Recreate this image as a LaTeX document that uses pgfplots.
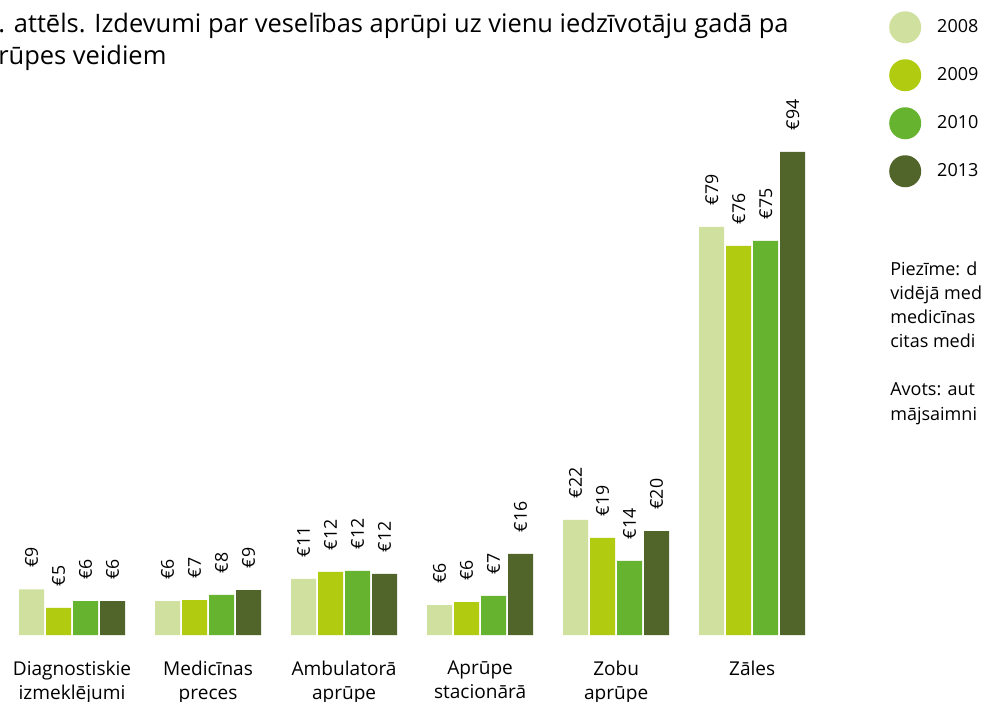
\documentclass[border=0pt]{standalone}
\usepackage{pgfplots}
\pgfplotsset{compat=1.18}
\usepackage{pgfplotstable}
\usepackage{fontspec}
\setmainfont{Open Sans}
\definecolor{cA}{HTML}{D0E19F}
\definecolor{cB}{HTML}{B0CB10}
\definecolor{cC}{HTML}{66B32F}
\definecolor{cD}{HTML}{51652B}
\pgfplotstableread{
x y l
0 8.9 9
1 6.6 6
2 10.9 11
3 5.8 6
4 22.4 22
5 79.4 79
}\tA
\pgfplotstableread{
x y l
0 5.3 5
1 6.8 7
2 12.3 12
3 6.4 6
4 18.9 19
5 75.7 76
}\tB
\pgfplotstableread{
x y l
0 6.6 6
1 7.8 8
2 12.5 12
3 7.6 7
4 14.4 14
5 76.7 75
}\tC
\pgfplotstableread{
x y l
0 6.6 6
1 8.75 9
2 11.9 12
3 15.8 16
4 20.2 20
5 94 94
}\tD
\begin{document}
\begin{tikzpicture}[x=0.75pt,y=-0.75pt]
\path[use as bounding box] (0,0) rectangle (982,702);
\begin{axis}[
  at={(8.1pt,-476.25pt)}, anchor=south west,
  scale only axis, width=617.25pt, height=385.5pt,
  xmin=-0.45, xmax=5.6, ymin=0, ymax=100,
  hide y axis,
  axis x line*=bottom,
  x axis line style={draw=none},
  ybar=1.5pt, bar width=18.75pt,
  xtick={0,1,2,3,4,5},
  xticklabels={Diagnostiskie\\izmeklējumi, Medicīnas\\preces, Ambulatorā\\aprūpe, Aprūpe\\stacionārā, Zobu\\aprūpe, Zāles},
  major tick length=0pt,
  xtick style={draw=none},
  xticklabel style={align=center, font=\fontsize{14.3pt}{18pt}\selectfont, inner sep=0pt, yshift=-19pt},
  point meta=explicit symbolic,
  nodes near coords={€\pgfplotspointmeta},
  every node near coord/.append style={font=\fontsize{13.3pt}{15pt}\selectfont, inner sep=0pt, anchor=west, rotate=90, xshift=16pt},
  legend image code/.code={\fill[#1] (12pt,0pt) circle (12pt);},
  legend style={draw=none, fill=none, at={(axis description cs:1.067,1.214)}, anchor=north west, font=\fontsize{13.5pt}{15pt}\selectfont, row sep=12pt, inner sep=0pt, nodes={inner sep=0pt, inner xsep=12pt}},
  legend cell align=left,
  clip=false,
]
\addplot[fill=cA, draw=none] table[x=x,y=y,meta=l] {\tA};
\addplot[fill=cB, draw=none] table[x=x,y=y,meta=l] {\tB};
\addplot[fill=cC, draw=none] table[x=x,y=y,meta=l] {\tC};
\addplot[fill=cD, draw=none] table[x=x,y=y,meta=l] {\tD};
\legend{2008,2009,2010,2013}
\end{axis}
\node[anchor=base west, inner sep=0pt, font=\fontsize{19.1pt}{20pt}\selectfont] at (-2,33) {. attēls. Izdevumi par veselības aprūpi uz vienu iedzīvotāju gadā pa};
\node[anchor=base west, inner sep=0pt, font=\fontsize{19.1pt}{20pt}\selectfont] at (-2,65) {rūpes veidiem};
\begin{scope}[every node/.style={anchor=base west, inner sep=0pt, font=\fontsize{13.5pt}{14pt}\selectfont}]
\node at (890,276) {Piezīme: d};
\node at (890,300) {vidējā med};
\node at (890,324) {medicīnas};
\node at (890,348) {citas medi};
\node at (890,396) {Avots: aut};
\node at (890,420) {mājsaimni};
\end{scope}
\end{tikzpicture}
\end{document}
